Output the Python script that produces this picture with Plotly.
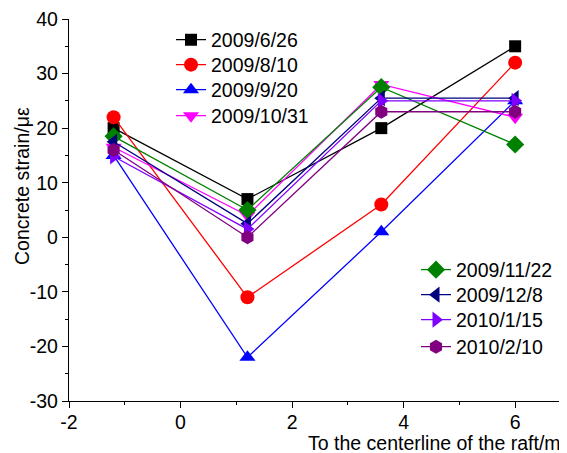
import plotly.graph_objects as go

x_pos = [-1.2, 1.2, 3.6, 6.0]
series_names = ["2009/6/26", "2009/8/10", "2009/9/20", "2009/10/31",
                "2009/11/22", "2009/12/8", "2010/1/15", "2010/2/10"]
s_0626 = [20, 7, 20, 35]
s_0810 = [22, -11, 6, 32]
s_0920 = [15, -22, 1, 25]
s_1031 = [16.5, 4, 28, 22]
s_1122 = [18.5, 5, 27.5, 17]
s_1208 = [17.5, 2.5, 25.5, 25.5]
s_0115 = [14.8, 1.5, 25, 25]
s_0210 = [16, 0, 23, 23]
values = [s_0626, s_0810, s_0920, s_1031, s_1122, s_1208, s_0115, s_0210]

x_ticks = [-2, 0, 2, 4, 6]
y_ticks = [-30, -20, -10, 0, 10, 20, 30, 40]

colors = ["#000000", "#FF0000", "#0000FF", "#FF00FF",
          "#008000", "#000080", "#8000FF", "#800080"]
symbols = ["square", "circle", "triangle-up", "triangle-down",
           "diamond", "triangle-left", "triangle-right", "hexagon"]
sizes = [12, 14, 14, 14, 14, 14, 14, 14]

FONT = "Arial, Liberation Sans, sans-serif"
FS = 19.5

# plot area in figure pixels (page has an 8px body offset)
L, T, R, B = 61, 11, 8, 60
W, H = 567, 453
PW, PH = W - L - R, H - T - B

def px_x(xf):
    return (xf - L) / PW

def px_y(yf):
    return (H - B - yf) / PH

# legend item centres (figure px) and left edges
leg_rows = [32, 57, 82, 108, 262, 287, 312, 339]
leg_left = [163] * 4 + [408] * 4

fig = go.Figure()
legend_layout = {}
for i, (name, vals) in enumerate(zip(series_names, values)):
    lname = "legend" if i == 0 else f"legend{i + 1}"
    fig.add_trace(go.Scatter(
        x=x_pos, y=vals, name=name, mode="lines+markers",
        line=dict(color=colors[i], width=1.3),
        marker=dict(symbol=symbols[i], size=sizes[i], color=colors[i],
                    line=dict(width=0)),
        legend=lname,
    ))
    legend_layout[lname] = dict(
        x=px_x(leg_left[i]), y=px_y(leg_rows[i]), xanchor="left", yanchor="middle",
        bgcolor="rgba(0,0,0,0)", font=dict(family=FONT, size=FS, color="black"),
        tracegroupgap=0)

axis_common = dict(
    showgrid=False, zeroline=False, showline=True, linecolor="black",
    linewidth=1.3, ticks="outside", ticklen=6, tickwidth=1.3,
    tickcolor="black", tickfont=dict(family=FONT, size=FS, color="black"),
    mirror=False, automargin=False, ticklabeloverflow="allow",
)

fig.update_layout(
    width=W, height=H,
    paper_bgcolor="white", plot_bgcolor="white",
    margin=dict(l=L, r=R, t=T, b=B, autoexpand=False),
    font=dict(family=FONT, color="black"),
    xaxis=dict(range=[-2, 6.93], tickvals=x_ticks,
               ticktext=[str(v) for v in x_ticks],
               ticklabelstandoff=-3,
               minor=dict(tickvals=[-1, 1, 3, 5], ticks="outside", ticklen=3,
                          tickwidth=1.3, tickcolor="black"),
               **axis_common),
    yaxis=dict(range=[-30, 40], tickvals=y_ticks,
               ticktext=[str(v) for v in y_ticks],
               minor=dict(tickvals=[-25, -15, -5, 5, 15, 25, 35], ticks="outside",
                          ticklen=3, tickwidth=1.3, tickcolor="black"),
               **axis_common),
    showlegend=True,
    **legend_layout,
)

fig.add_annotation(text="Concrete strain/με", xref="paper", yref="paper",
                   x=px_x(14), y=px_y(178), xanchor="center", yanchor="middle",
                   textangle=-90, showarrow=False,
                   font=dict(family=FONT, size=FS, color="black"))
fig.add_annotation(text="To the centerline of the raft/m", xref="paper", yref="paper",
                   x=px_x(555), y=px_y(422), xanchor="right", yanchor="top",
                   showarrow=False,
                   font=dict(family=FONT, size=FS, color="black"))

fig.write_html("out.html")
